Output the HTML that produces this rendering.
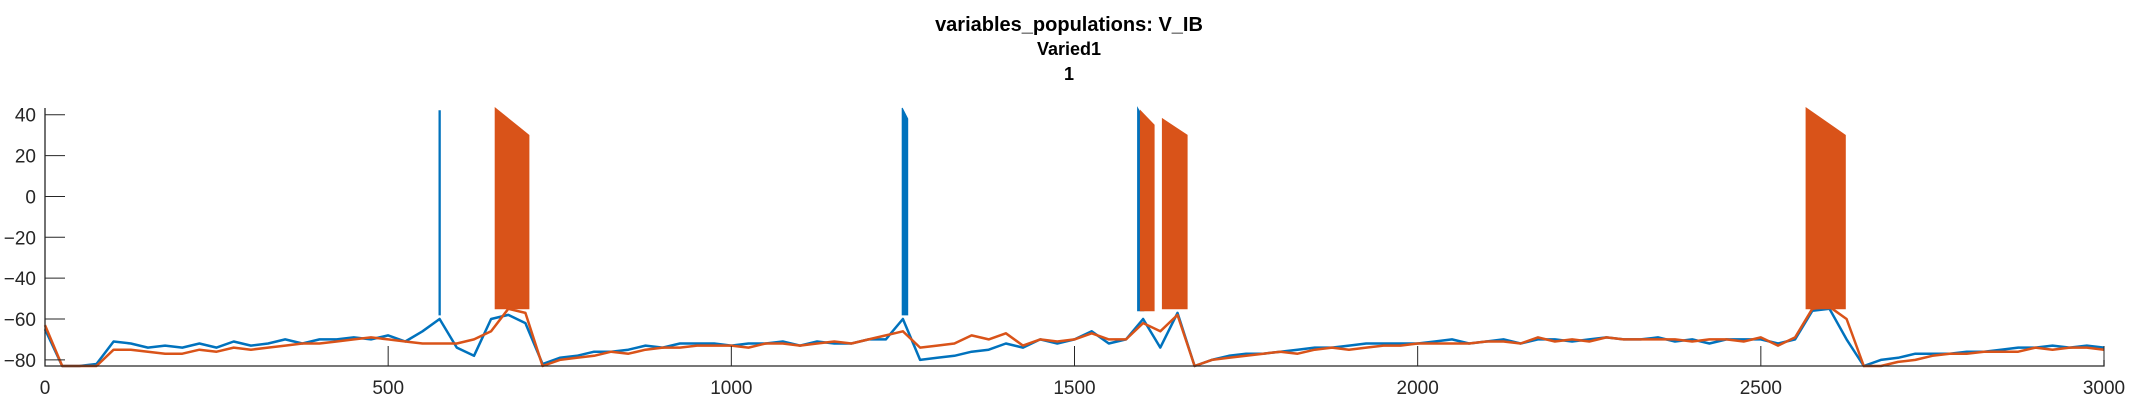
<!DOCTYPE html>
<html><head><meta charset="utf-8"><style>
body{margin:0;background:#fff;}
svg{display:block;font-family:"Liberation Sans",Arial,sans-serif;}
</style></head><body>
<svg id="chart" width="2133" height="400" viewBox="0 0 2133 400">
<g font-weight="bold" fill="#000" text-anchor="middle" font-size="20">
<text x="1069" y="31">variables_populations: V_IB</text>
<text x="1069" y="55" font-size="18">Varied1</text>
<text x="1069" y="80" font-size="18">1</text>
</g>
<g id="plot"></g>
<g id="axes"></g>
</svg>
<script>
const xTicks=[0,500,1000,1500,2000,2500,3000];
const yTicks=[-80,-60,-40,-20,0,20,40];
const sampleX=[];for(let i=0;i<=120;i++)sampleX.push(i*25);
const blueV=[-65,-84,-83,-82,-71,-72,-74,-73,-74,-72,-74,-71,-73,-72,-70,-72,-70,-70,-69,-70,-68,-71,-66,-60,-74,-78,-60,-58,-62,-82,-79,-78,-76,-76,-75,-73,-74,-72,-72,-72,-73,-72,-72,-71,-73,-71,-72,-72,-70,-70,-60,-80,-79,-78,-76,-75,-72,-74,-70,-72,-70,-66,-72,-70,-60,-74,-57,-83,-80,-78,-77,-77,-76,-75,-74,-74,-73,-72,-72,-72,-72,-71,-70,-72,-71,-70,-72,-70,-70,-71,-70,-69,-70,-70,-69,-71,-70,-72,-70,-70,-70,-72,-70,-56,-55,-70,-83,-80,-79,-77,-77,-77,-76,-76,-75,-74,-74,-73,-74,-73,-74];
const orangeV=[-63,-84,-85,-83,-75,-75,-76,-77,-77,-75,-76,-74,-75,-74,-73,-72,-72,-71,-70,-69,-70,-71,-72,-72,-72,-70,-66,-55,-57,-84,-80,-79,-78,-76,-77,-75,-74,-74,-73,-73,-73,-74,-72,-72,-73,-72,-71,-72,-70,-68,-66,-74,-73,-72,-68,-70,-67,-73,-70,-71,-70,-67,-70,-70,-62,-66,-58,-84,-80,-79,-78,-77,-76,-77,-75,-74,-75,-74,-73,-73,-72,-72,-72,-72,-71,-71,-72,-69,-71,-70,-71,-69,-70,-70,-70,-70,-71,-70,-70,-71,-69,-73,-69,-55,-54,-60,-84,-83,-81,-80,-78,-77,-77,-76,-76,-76,-74,-75,-74,-74,-75];
// bursts: start, end, low, topStart, topEnd
const burstSeries=["blue","blue","blue","orange","orange","orange","orange"];
const burstStart=[574,1249,1592,656,1596,1628,2566];
const burstEnd=[576,1257,1601,705,1616,1664,2623];
const burstLow=[-58,-58,-56,-55,-56,-55,-55];
const burstTopStart=[42,44,44,45,42,38,45];
const burstTopEnd=[42,38,38,30,35,30,30];
const colors={blue:"#0072BD",orange:"#D95319"};
const X0=45,X1=2104,YTOP=108,YBOT=366;
const xMin=0,xMax=3000,yMin=-83,yMax=43.3;
const sx=v=>X0+(v-xMin)/(xMax-xMin)*(X1-X0);
const sy=v=>YBOT-(v-yMin)/(yMax-yMin)*(YBOT-YTOP);
const NS="http://www.w3.org/2000/svg";
const plot=document.getElementById('plot'),axes=document.getElementById('axes');
function mk(t,a,p){const e=document.createElementNS(NS,t);for(const k in a)e.setAttribute(k,a[k]);p.appendChild(e);return e;}
function line(vals,color,name){
  const pts=vals.map((v,i)=>sx(sampleX[i]).toFixed(1)+","+sy(Math.max(yMin,v)).toFixed(1)).join(" ");
  const el=mk('polyline',{points:pts,fill:"none",stroke:color,"stroke-width":2.5,"stroke-linejoin":"round"},plot);
  
  
}
line(blueV,colors.blue,'series-blue-line');
line(orangeV,colors.orange,'series-orange-line');
for(let i=0;i<burstStart.length;i++){
  const a=sx(burstStart[i]),b=sx(burstEnd[i]);
  const p=[[a,sy(burstLow[i])],[a,sy(Math.min(yMax,burstTopStart[i]))],[b,sy(Math.min(yMax,burstTopEnd[i]))],[b,sy(burstLow[i])]];
  const el=mk('polygon',{points:p.map(q=>q[0].toFixed(1)+","+q[1].toFixed(1)).join(" "),fill:colors[burstSeries[i]],stroke:colors[burstSeries[i]],"stroke-width":1},plot);
  
  
}
const ax=mk('path',{d:`M${X0},${YTOP}V${YBOT}H${X1}V${YBOT-6}`,fill:"none",stroke:"#262626","stroke-width":1.3},axes);


xTicks.forEach(t=>{
  const x=sx(t);
  const tk=mk('line',{x1:x,x2:x,y1:YBOT,y2:YBOT-20,stroke:"#262626","stroke-width":1},axes);
  
  
  const tx=mk('text',{x:x,y:YBOT+28,"text-anchor":"middle","font-size":19,fill:"#262626"},axes);
  tx.textContent=t;
  
  
});
yTicks.forEach(t=>{
  const y=sy(t);
  const tk=mk('line',{x1:X0,x2:X0+20,y1:y,y2:y,stroke:"#262626","stroke-width":1},axes);
  
  
  const tx=mk('text',{x:X0-9,y:y+7,"text-anchor":"end","font-size":19,fill:"#262626"},axes);
  tx.textContent=t<0?"\u2212"+(-t):t;
  
  
});
</script>
</body></html>
